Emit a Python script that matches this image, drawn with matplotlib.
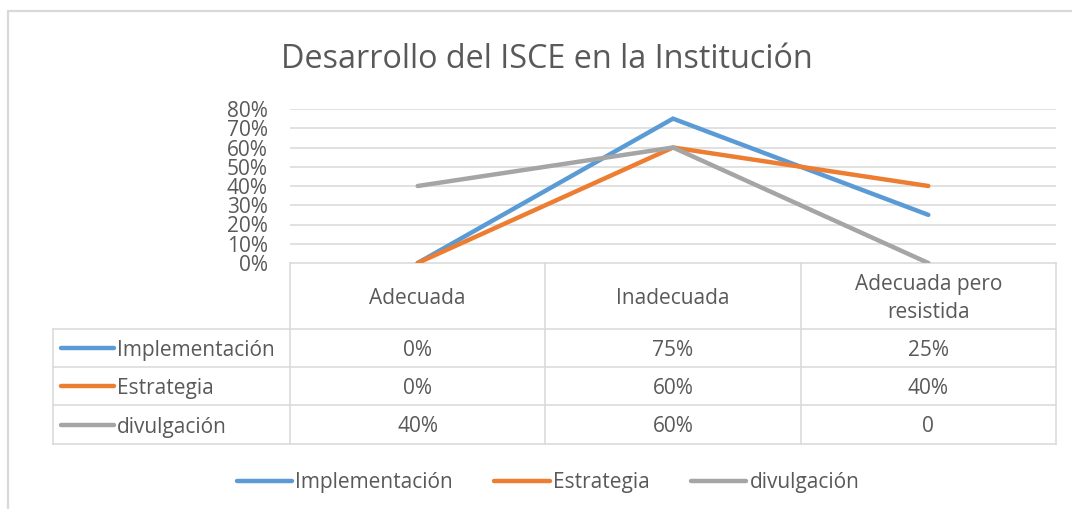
import matplotlib
matplotlib.use('Agg')
import matplotlib.pyplot as plt
from matplotlib.lines import Line2D

# data
categories = ['Adecuada', 'Inadecuada', 'Adecuada pero\nresistida']
series_names = ['Implementación', 'Estrategia', 'divulgación']
implementacion = [0.00, 0.75, 0.25]
estrategia = [0.00, 0.60, 0.40]
divulgacion = [0.40, 0.60, 0.00]
table_text = [['0%', '75%', '25%'],
              ['0%', '60%', '40%'],
              ['40%', '60%', '0']]
yticks = [0, 0.1, 0.2, 0.3, 0.4, 0.5, 0.6, 0.7, 0.8]

colors = ['#5B9BD5', '#ED7D31', '#A5A5A5']
text_color = '#595959'
grid_color = '#D9D9D9'
plt.rcParams['font.family'] = ['Open Sans', 'DejaVu Sans']
fs = 15
dy = 2.5  # small nudge so the glyphs sit where they do in the original

W, H = 1072, 509
fig = plt.figure(figsize=(W / 100, H / 100), dpi=100)

# overlay in pixel coords (y from top)
ov = fig.add_axes([0, 0, 1, 1])
ov.set_xlim(0, W)
ov.set_ylim(H, 0)
ov.axis('off')

# plot area
px_left, px_right, px_top, px_bottom = 290, 1056, 109, 263
ax = fig.add_axes([px_left / W, (H - px_bottom) / H,
                   (px_right - px_left) / W, (px_bottom - px_top) / H])
series = [implementacion, estrategia, divulgacion]
x = range(len(categories))
for vals, c in zip(series, colors):
    ax.plot(x, vals, color=c, lw=3.2, solid_capstyle='round', solid_joinstyle='miter', zorder=3)
ax.set_xlim(-0.5, len(categories) - 0.5)
ax.set_ylim(0, 0.8)
ax.set_yticks(yticks)
ax.set_yticklabels(['%d%%' % round(v * 100) for v in yticks])
ax.set_xticks([])
ax.tick_params(axis='y', length=0, pad=16, labelsize=fs, labelcolor=text_color)
for v in yticks[1:]:
    ax.axhline(v, color=grid_color, lw=1.1, zorder=1)
for s in ax.spines.values():
    s.set_visible(False)
ax.patch.set_alpha(0)

# outer chart border
ov.plot([8, 8, W], [H, 11, 11], color=grid_color, lw=1.6)

# title
ov.text(547, 57 + dy, 'Desarrollo del ISCE en la Institución', ha='center', va='center',
        fontsize=23.3, color=text_color)

# data table, column edges from the plot axis scale
def to_px(xd):
    disp = ax.transData.transform((xd, 0))
    return ov.transData.inverted().transform(disp)[0]

col_edges = [to_px(b - 0.5) for b in range(len(categories) + 1)]
tbl_left = 53
header_top, header_bottom = px_bottom, 329
row_edges = [329, 367, 405, 444]
lkw = dict(color=grid_color, lw=1.1)
ov.plot([col_edges[0], col_edges[-1]], [header_top, header_top], **lkw)
for y in row_edges:
    ov.plot([tbl_left, col_edges[-1]], [y, y], **lkw)
ov.plot([tbl_left, tbl_left], [row_edges[0], row_edges[-1]], **lkw)
for xe in col_edges:
    ov.plot([xe, xe], [header_top, row_edges[-1]], **lkw)

for i, cat in enumerate(categories):
    xc = (col_edges[i] + col_edges[i + 1]) / 2
    ov.text(xc, (header_top + header_bottom) / 2 + dy, cat, ha='center', va='center',
            fontsize=fs, color=text_color, linespacing=1.38)

for r, (name, c) in enumerate(zip(series_names, colors)):
    yc = (row_edges[r] + row_edges[r + 1]) / 2
    ov.plot([61, 114], [yc, yc], color=c, lw=3.2, solid_capstyle='round')
    ov.text(117, yc + dy, name, ha='left', va='center', fontsize=fs, color=text_color)
    for i in range(len(categories)):
        xc = (col_edges[i] + col_edges[i + 1]) / 2
        ov.text(xc, yc + dy, table_text[r][i], ha='center', va='center',
                fontsize=fs, color=text_color)

# legend
handles = [Line2D([], [], color=c, lw=3.2, solid_capstyle='round') for c in colors]
leg = fig.legend(handles, series_names, loc='center', bbox_to_anchor=(548 / W, 1 - 482.5 / H),
                 ncol=3, frameon=False, fontsize=fs, handlelength=2.65, handletextpad=0.15,
                 columnspacing=2.0, labelcolor=text_color)

fig.savefig('out.png', dpi=100)
